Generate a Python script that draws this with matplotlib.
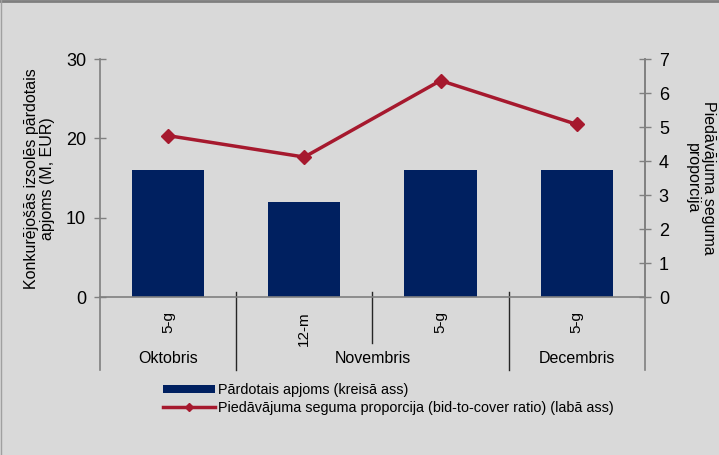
import matplotlib
matplotlib.use("Agg")
import matplotlib.pyplot as plt
from matplotlib.lines import Line2D
from matplotlib.patches import Patch

# --- dati ---
tenors = ["5-g", "12-m", "5-g", "5-g"]
months = ["Oktobris", "Novembris", "Decembris"]
month_span = [(0, 0), (1, 2), (3, 3)]   # kuras kategorijas pieder mēnesim
sold_volume = [16, 12, 16, 16]           # M EUR, kreisā ass
bid_to_cover = [4.75, 4.12, 6.37, 5.08]  # labā ass

BAR_COLOR = "#002060"
LINE_COLOR = "#a6192e"
BG = "#d9d9d9"
AXIS_GRAY = "#808080"

plt.rcParams["font.family"] = ["Liberation Sans", "DejaVu Sans"]

fig = plt.figure(figsize=(7.19, 4.55), dpi=100)
fig.patch.set_facecolor(BG)
# rāmis tikai augšā un kreisajā malā
fig.add_artist(Line2D([0, 1], [0.998, 0.998], transform=fig.transFigure,
                      color="#7f7f7f", linewidth=2))
fig.add_artist(Line2D([0.001, 0.001], [0, 1], transform=fig.transFigure,
                      color="#a0a0a0", linewidth=1))

ax = fig.add_axes([0.139, 0.347, 0.758, 0.523])
ax.set_facecolor(BG)
x = list(range(len(tenors)))

ax.bar(x, sold_volume, width=0.53, color=BAR_COLOR, zorder=2)
ax.set_xlim(-0.5, len(tenors) - 0.5)
ax.set_ylim(0, 30)
ax.set_yticks([0, 10, 20, 30])
ax.tick_params(axis="y", direction="inout", length=8, width=1, color=AXIS_GRAY,
               labelsize=13, pad=6)
ax.set_xticks(x)
ax.set_xticklabels(tenors, rotation=90, fontsize=11)
ax.tick_params(axis="x", length=0, pad=10)
ax.set_ylabel("Konkurējošās izsolēs pārdotais\napjoms (M, EUR)", fontsize=11.5,
              labelpad=8, linespacing=1.1)

ax.spines["top"].set_visible(False)
for s in ["left", "right", "bottom"]:
    ax.spines[s].set_color(AXIS_GRAY)
    ax.spines[s].set_linewidth(1.2)

ax2 = ax.twinx()
ax2.plot(x, bid_to_cover, color=LINE_COLOR, linewidth=2.5, marker="D",
         markersize=7, zorder=3)
ax2.set_ylim(0, 7)
ax2.set_yticks(range(0, 8))
ax2.tick_params(axis="y", direction="inout", length=8, width=1, color=AXIS_GRAY,
                labelsize=13, pad=6)
ax2.set_ylabel("Piedāvājuma seguma\nproporcija", fontsize=11.5, rotation=270,
               labelpad=34, linespacing=1.1)
for s in ["top", "left", "bottom"]:
    ax2.spines[s].set_visible(False)
ax2.spines["right"].set_color(AXIS_GRAY)
ax2.spines["right"].set_linewidth(1.2)

# kategoriju atdalītāji zem ass
tr = ax.get_xaxis_transform()
for xe in [-0.5, len(tenors) - 0.5]:
    ax.add_line(Line2D([xe, xe], [0, -0.307], transform=tr, color=AXIS_GRAY,
                       linewidth=1.2, clip_on=False))
month_edges = [b[1] + 0.5 for b in month_span[:-1]]
for i in range(len(tenors) - 1):
    xe = i + 0.5
    bottom = -0.307 if xe in month_edges else -0.193
    ax.add_line(Line2D([xe, xe], [0.02, bottom], transform=tr, color="#262626",
                       linewidth=1, clip_on=False))

for name, (a, b) in zip(months, month_span):
    ax.text((a + b) / 2, -0.256, name, transform=tr, ha="center", va="center",
            fontsize=11.5)

handles = [Patch(facecolor=BAR_COLOR, edgecolor="none"),
           Line2D([], [], color=LINE_COLOR, linewidth=2.5, marker="D", markersize=4)]
labels = ["Pārdotais apjoms (kreisā ass)",
          "Piedāvājuma seguma proporcija (bid-to-cover ratio) (labā ass)"]
fig.legend(handles, labels, loc="upper left", bbox_to_anchor=(0.227, 0.158),
           frameon=False, fontsize=10.4, handlelength=3.6, handleheight=0.5,
           handletextpad=0.2, borderpad=0, labelspacing=0.25, borderaxespad=0)

fig.savefig("out.png", dpi=100, facecolor=BG)
